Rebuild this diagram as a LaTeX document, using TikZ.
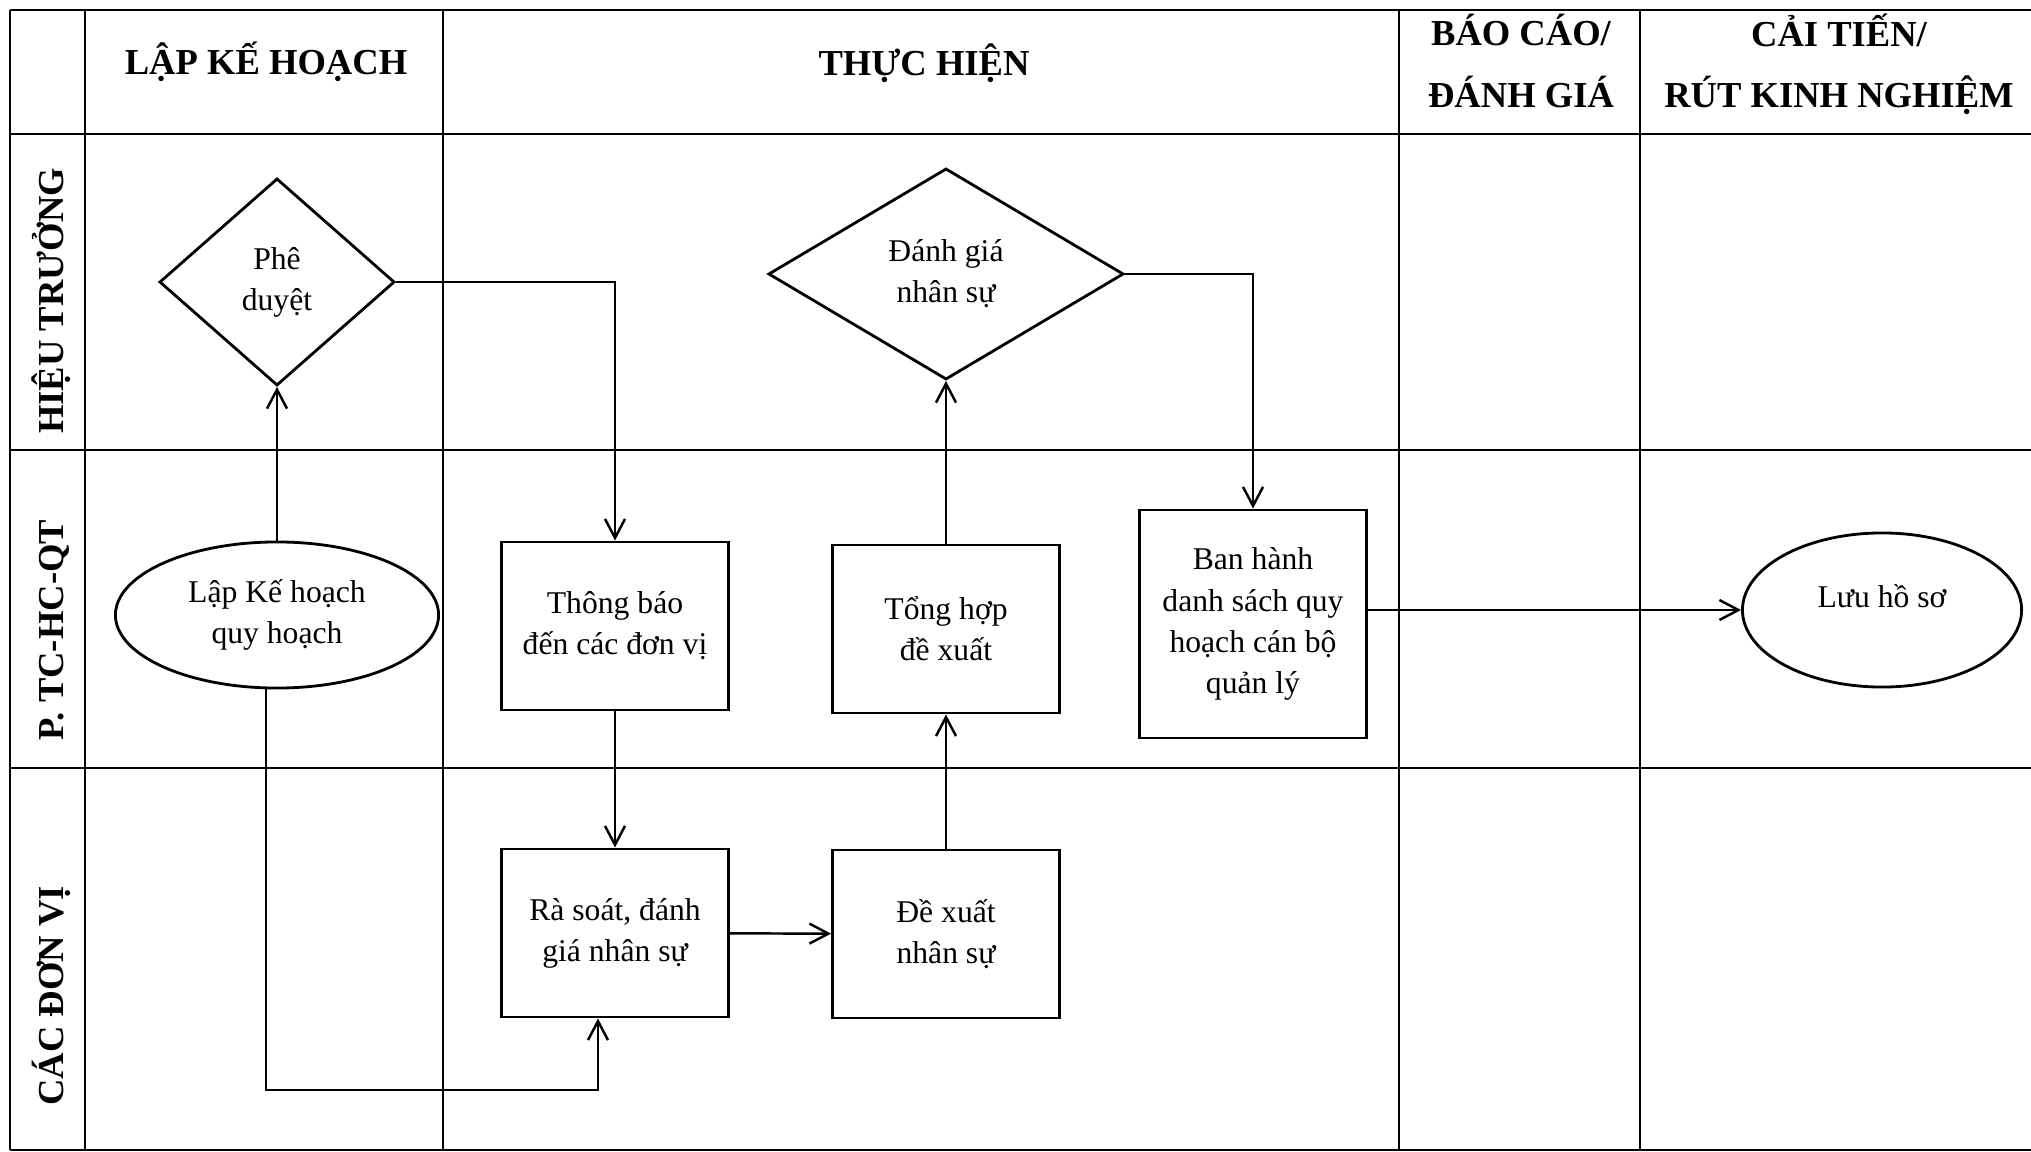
\documentclass[tikz,border=0pt]{standalone}
\usepackage{fontspec}
\setmainfont{Liberation Serif}
\usetikzlibrary{shapes.geometric,arrows.meta}

\begin{document}
\begin{tikzpicture}[
    x=0.01cm, y=-0.01cm,
    lane/.style={line width=0.6pt},
    head/.style={font=\fontsize{10.4}{17.4}\selectfont\bfseries, align=center, inner sep=0pt},
    lanelabel/.style={font=\fontsize{10.4}{12}\selectfont\bfseries, rotate=90, anchor=base, inner sep=0pt},
    txt/.style={font=\fontsize{9}{11.7}\selectfont, align=center, inner sep=0pt},
    box/.style={txt, draw, line width=0.8pt, rectangle, minimum width=2.27cm, minimum height=1.68cm},
    decide/.style={txt, draw, line width=0.8pt, diamond},
    oval/.style={txt, draw, line width=0.8pt, ellipse},
    arr/.style={line width=0.7pt, -{Straight Barb[length=1.9mm, width=2mm]}}
]
    \useasboundingbox (0,0) rectangle (2031,1152);

    % lanes and columns
    \foreach \y in {10,134,450,768,1150}
        \draw[lane] (10,\y) -- (2031,\y);
    \foreach \x in {10,85,443,1399,1640}
        \draw[lane] (\x,10) -- (\x,1150);

    \node[head, anchor=base] (hplan) at (266,75) {LẬP KẾ HOẠCH};
    \node[head, anchor=base] (hexec) at (924,76) {THỰC HIỆN};
    \node[head] (hreport) at (1521,61) {BÁO CÁO/\\ĐÁNH GIÁ};
    \node[head] (himprove) at (1839,64) {CẢI TIẾN/\\RÚT KINH NGHIỆM};

    \node[lanelabel] (rector) at (63,301) {HIỆU TRƯỞNG};
    \node[lanelabel] (office) at (63,630) {P. TC-HC-QT};
    \node[lanelabel] (units) at (63,996) {CÁC ĐƠN VỊ};

    % steps
    \node[decide, minimum width=2.35cm, minimum height=2.07cm] (approve) at (277,282) {Phê\\duyệt};
    \node[oval, minimum width=3.23cm, minimum height=1.46cm] (plan) at (277,615) {Lập Kế hoạch\\quy hoạch};
    \node[box] (notify) at (615,626) {Thông báo\\đến các đơn vị};
    \node[box] (review) at (615,933) {Rà soát, đánh\\giá nhân sự};
    \node[box] (propose) at (946,934) {Đề xuất\\nhân sự};
    \node[box] (summary) at (946,629) {Tổng hợp\\đề xuất};
    \node[decide, minimum width=3.55cm, minimum height=2.11cm] (assess) at (946,274) {Đánh giá\\nhân sự};
    \node[box, minimum height=2.28cm] (issue) at (1253,624) {Ban hành\\danh sách quy\\hoạch cán bộ\\quản lý};
    \node[oval, minimum width=2.79cm, minimum height=1.54cm, text height=0.2cm, text depth=0.26cm] (archive) at (1882,610) {Lưu hồ sơ};

    % flow
    \draw[arr] (plan) -- (approve);
    \draw[arr] (approve.east) -| (notify.north);
    \draw[arr] (notify) -- (review);
    \coordinate (loop) at (598,1090);
    \draw[arr] ([xshift=-0.11cm]plan.south) |- (loop) -- (loop |- review.south);
    \draw[arr] (review) -- (propose);
    \draw[arr] (propose) -- (summary);
    \draw[arr] (summary) -- (assess);
    \draw[arr] (assess.east) -| (issue.north);
    \draw[arr] (issue.east |- archive) -- (archive);
\end{tikzpicture}
\end{document}
